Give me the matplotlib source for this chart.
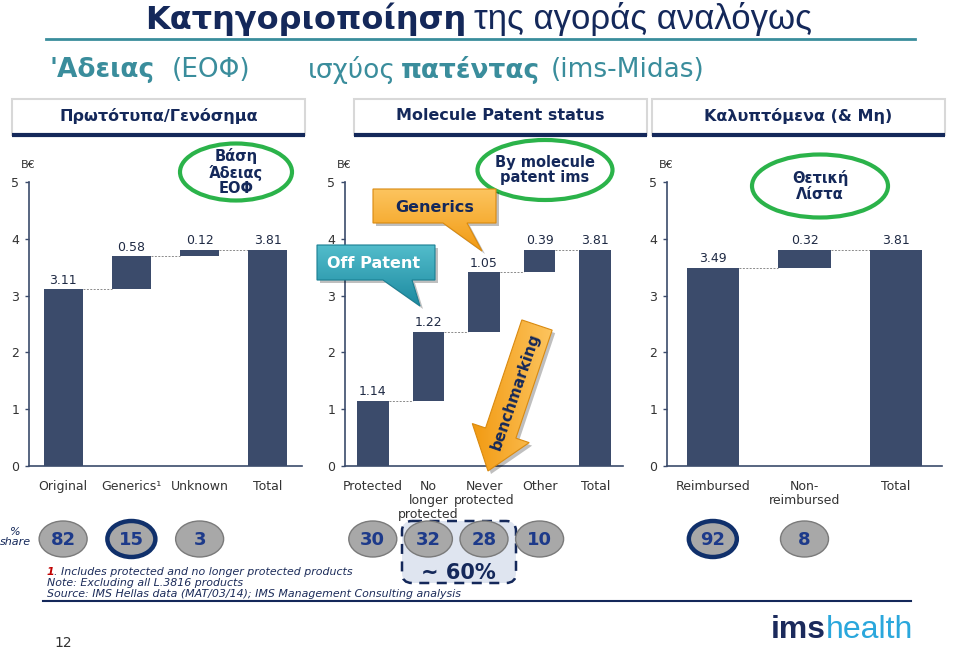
import numpy as np, matplotlib
matplotlib.use("Agg")
import matplotlib.pyplot as plt
from matplotlib.patches import Rectangle, Ellipse, Polygon, FancyArrow, FancyBboxPatch
from matplotlib.colors import to_rgb

# ---- data ----
cats1 = ["Original", "Generics¹", "Unknown", "Total"]
vals1 = [3.11, 0.58, 0.12, 3.81]
share1 = ["82", "15", "3"]

cats2 = ["Protected", "No\nlonger\nprotected", "Never\nprotected", "Other", "Total"]
vals2 = [1.14, 1.22, 1.05, 0.39, 3.81]
share2 = ["30", "32", "28", "10"]

cats3 = ["Reimbursed", "Non-\nreimbursed", "Total"]
vals3 = [3.49, 0.32, 3.81]
share3 = ["92", "8"]
yticks = [0, 1, 2, 3, 4, 5]

W, H = 960, 649
NAVY = "#14285a"
BAR = "#3b4b6b"
TEAL = "#3a8d9c"
GREEN = "#2bb34a"

fig = plt.figure(figsize=(W / 100, H / 100), dpi=100)
fig.patch.set_facecolor("white")

y0px, y5px = 466, 182
panels = [(29, 273, cats1, vals1, share1, [1]),
          (345, 278, cats2, vals2, share2, []),
          (667, 275, cats3, vals3, share3, [0])]

for left, width, cats, vals, shares, thick in panels:
    ax = fig.add_axes([left / W, 1 - y0px / H, width / W, (y0px - y5px) / H])
    n = len(vals)
    bottoms, tops = [], []
    run = 0.0
    for i, v in enumerate(vals):
        if i == n - 1:
            b = 0.0
        else:
            b = run
            run += v
        bottoms.append(b)
        tops.append(b + v)
    bw = 0.57
    ax.bar(range(n), vals, bottom=bottoms, width=bw, color=BAR, zorder=3)
    for i in range(n):
        ax.annotate(f"{vals[i]:.2f}", (i, tops[i]), xytext=(0, 2),
                    textcoords="offset points", ha="center", va="bottom",
                    fontsize=9, color="#1f2a44")
        if i < n - 1:
            ax.plot([i + bw / 2, i + 1 - bw / 2], [tops[i], tops[i]],
                    color="#8a8a8a", lw=0.7, ls=(0, (2, 1.5)), zorder=2)
    ax.set_xlim(-0.5, n - 0.5)
    ax.set_ylim(0, 5)
    ax.set_yticks(yticks)
    ax.set_xticks(range(n), cats)
    for s in ["top", "right"]:
        ax.spines[s].set_visible(False)
    for s in ["left", "bottom"]:
        ax.spines[s].set_color(BAR)
        ax.spines[s].set_linewidth(1.2)
    ax.tick_params(axis="y", length=3, width=1, color=BAR, labelsize=9,
                   labelcolor="#333333", pad=4)
    ax.tick_params(axis="x", length=0, pad=10, labelsize=9, labelcolor="#333333")
    for lbl in ax.get_xticklabels():
        lbl.set_linespacing(1.1)
    ax.patch.set_alpha(0)

# ---- overlay in pixel coordinates ----
ov = fig.add_axes([0, 0, 1, 1], zorder=5)
ov.set_xlim(0, W)
ov.set_ylim(H, 0)
ov.axis("off")
ov.patch.set_alpha(0)

for left, width, cats, vals, shares, thick in panels:
    ov.text(left - 8, 165, "B€", fontsize=8, color="#333333", ha="left", va="center")


def grad_poly(verts, c1, c2, ec, horizontal=False, z=6):
    xs, ys = zip(*verts)
    sh = Polygon([(x + 3, y + 3) for x, y in verts], closed=True,
                 fc="#000000", alpha=0.25, ec="none", zorder=z - 0.2)
    ov.add_patch(sh)
    poly = Polygon(verts, closed=True, fc="none", ec=ec, lw=0.8, zorder=z)
    ov.add_patch(poly)
    t = np.linspace(0, 1, 64)[:, None]
    g = np.array(to_rgb(c1)) + (np.array(to_rgb(c2)) - np.array(to_rgb(c1))) * t
    img = g[None, :, :] if horizontal else g[:, None, :]
    im = ov.imshow(img, extent=[min(xs), max(xs), max(ys), min(ys)],
                   origin="upper", aspect="auto", zorder=z - 0.1)
    im.set_clip_path(poly)
    return poly


# title
ov.text(466, 19, "Κατηγοριοποίηση", ha="right", va="center", fontsize=23,
        weight="bold", color=NAVY, family="DejaVu Sans")
ov.text(474, 19, "της αγοράς αναλόγως", ha="left", va="center", fontsize=25,
        color=NAVY, family="Liberation Sans")
ov.plot([46, 915], [39, 39], color=TEAL, lw=2)

# subtitle
sub = [(49, "'Αδειας", "bold"), (172, "(ΕΟΦ)", "normal"), (308, "ισχύος", "normal"),
       (401, "πατέντας", "bold"), (551, "(ims-Midas)", "normal")]
for x, txt, wt in sub:
    ov.text(x, 70, txt, ha="left", va="center", fontsize=19, weight=wt,
            color=TEAL, family="DejaVu Sans")

# header boxes
headers = [(12, 305, "Πρωτότυπα/Γενόσημα"), (354, 647, "Molecule Patent status"),
           (652, 945, "Καλυπτόμενα (& Μη)")]
for x0, x1, txt in headers:
    ov.add_patch(Rectangle((x0, 99), x1 - x0, 36, fc="white", ec="#d8d8d8", lw=1.5))
    ov.plot([x0, x1], [135, 135], color=NAVY, lw=3, solid_capstyle="butt")
    ov.text((x0 + x1) / 2, 116, txt, ha="center", va="center", fontsize=11.5,
            weight="bold", color=NAVY, family="DejaVu Sans")

# green ellipses
for cx, cy, w, h, txt in [(236, 172, 112, 57, "Βάση\nΆδειας\nΕΟΦ"),
                          (545, 170, 135, 60, "By molecule\npatent ims"),
                          (820, 186, 136, 63, "Θετική\nΛίστα")]:
    ov.add_patch(Ellipse((cx, cy), w, h, fill=False, ec=GREEN, lw=3, zorder=4))
    ov.text(cx, cy, txt, ha="center", va="center", fontsize=10.5, weight="bold",
            color=NAVY, linespacing=1.05, zorder=5)

# callouts
grad_poly([(373, 189), (496, 189), (496, 223), (467, 223), (482, 251),
           (443, 223), (373, 223)], "#fcc45e", "#f29a12", "#d98a10")
ov.text(435, 207, "Generics", ha="center", va="center", fontsize=11.5,
        weight="bold", color=NAVY, zorder=7)
grad_poly([(317, 245), (435, 245), (435, 280), (412, 280), (420, 306),
           (383, 280), (317, 280)], "#52bccb", "#1d8aa0", "#1a7f93")
ov.text(374, 263, "Off Patent", ha="center", va="center", fontsize=11.5,
        weight="bold", color="white", zorder=7)

# benchmarking arrow
arr = FancyArrow(537, 325, -49, 146, width=32, head_width=60, head_length=40,
                 length_includes_head=True)
grad_poly(arr.get_xy(), "#f29a12", "#fcc45e", "#d98a10", horizontal=True)
ov.text(516, 392, "benchmarking", ha="center", va="center", rotation=71,
        fontsize=11, weight="bold", color=NAVY, zorder=7)

# % share bubbles
ov.text(15, 537, "%\nshare", ha="center", va="center", fontsize=8, style="italic",
        color=NAVY, linespacing=0.95)
ov.add_patch(FancyBboxPatch((402, 521), 114, 62,
                            boxstyle="round,pad=0,rounding_size=10",
                            fc="#dfe5f0", ec=NAVY, ls=(0, (4, 3)), lw=1.8, zorder=2))
ov.text(458, 573, "~ 60%", ha="center", va="center", fontsize=15,
        weight="bold", color=NAVY, zorder=3)
for left, width, cats, vals, shares, thick in panels:
    n = len(vals)
    for i, s in enumerate(shares):
        cx = left + (i + 0.5) * width / n
        if i in thick:
            ov.add_patch(Ellipse((cx, 539), 48, 36, fc="#a8a8a8", ec="#10306b",
                                 lw=3.2, zorder=4))
        else:
            ov.add_patch(Ellipse((cx, 539), 48, 36, fc="#a8a8a8", ec="#7a7a7a",
                                 lw=1, zorder=4))
        ov.text(cx, 540, s, ha="center", va="center", fontsize=13,
                weight="bold", color="#1d3a8a", zorder=5)

# footnotes
fs = 7.9
ov.text(47, 572, "1", ha="left", va="center", fontsize=fs, style="italic",
        weight="bold", color="#c00000")
ov.text(54, 572, ". Includes protected and no longer protected products",
        ha="left", va="center", fontsize=fs, style="italic", color="#1c2c5a")
ov.text(47, 583, "Note: Excluding all L.3816 products", ha="left", va="center",
        fontsize=fs, style="italic", color="#1c2c5a")
ov.text(47, 594, "Source: IMS Hellas data (MAT/03/14); IMS Management Consulting analysis",
        ha="left", va="center", fontsize=fs, style="italic", color="#1c2c5a")
ov.plot([43, 911], [601, 601], color=NAVY, lw=1.5)

# page number and logo
ov.text(63, 643, "12", ha="center", va="center", fontsize=10, color="#333333")
ov.text(826, 630, "ims", ha="right", va="center", fontsize=23, weight="bold",
        color="#1b2a5c", family="Liberation Sans")
ov.text(826, 630, "health", ha="left", va="center", fontsize=23,
        color="#2aa7dc", family="Liberation Sans")

fig.savefig("out.png", dpi=100)
